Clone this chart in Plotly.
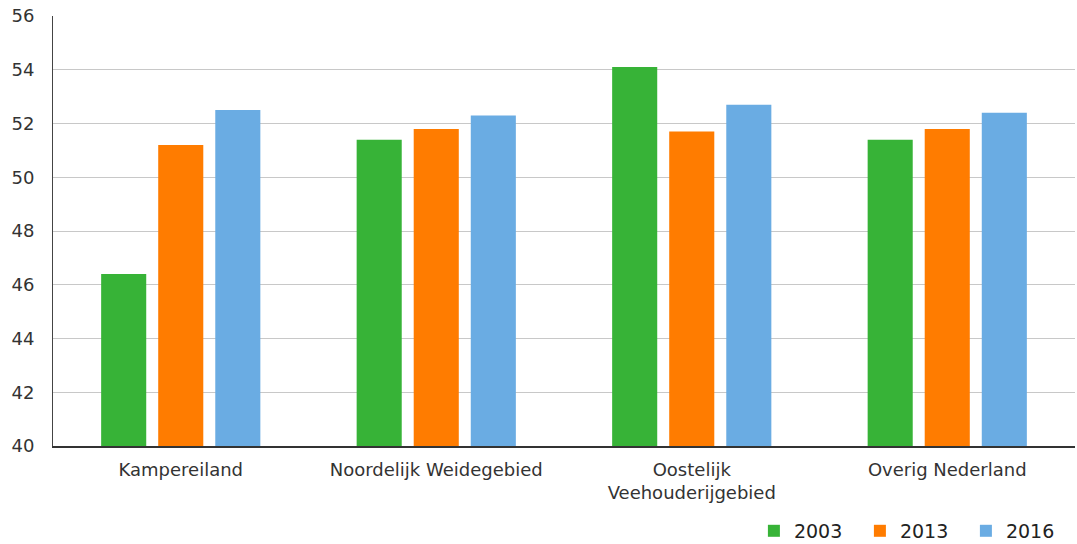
import plotly.graph_objects as go

categories = ["Kampereiland", "Noordelijk Weidegebied", "Oostelijk<br>Veehouderijgebied", "Overig Nederland"]
values_2003 = [46.4, 51.4, 54.1, 51.4]
values_2013 = [51.2, 51.8, 51.7, 51.8]
values_2016 = [52.5, 52.3, 52.7, 52.4]
tick_values = [40, 42, 44, 46, 48, 50, 52, 54, 56]

series = [
    ("2003", values_2003, "#37b337"),
    ("2013", values_2013, "#ff7c00"),
    ("2016", values_2016, "#6aace3"),
]

fig = go.Figure()
for name, vals, color in series:
    fig.add_trace(go.Bar(name=name, x=categories, y=vals, marker_color=color,
                         marker_line_width=0))

family = "DejaVu Sans, Verdana, sans-serif"
fig.update_layout(
    width=1077, height=544,
    margin=dict(l=53, r=2, t=16, b=98),
    paper_bgcolor="white", plot_bgcolor="white",
    barmode="group", bargap=0.33, bargroupgap=0.21,
    font=dict(family=family, size=17, color="#333333"),
    legend=dict(orientation="h", xref="container", yref="container",
                x=0.700, xanchor="left", y=0.024, yanchor="middle",
                font=dict(family=family, size=19, color="#222222"),
                itemwidth=30, entrywidth=61, entrywidthmode="pixels",
                traceorder="normal"),
    xaxis=dict(showline=True, linecolor="#333333", linewidth=2, ticks="",
               tickfont=dict(family=family, size=18, color="#333333"),
               showgrid=False, ticklabelstandoff=6),
    yaxis=dict(range=[40, 56], tickvals=tick_values, showgrid=True,
               gridcolor="#c8c8c8", gridwidth=1, showline=True,
               linecolor="#444444", linewidth=1, ticks="",
               tickfont=dict(family=family, size=18, color="#333333"),
               zeroline=False, ticklabelstandoff=14),
)

fig.write_html("out.html")
